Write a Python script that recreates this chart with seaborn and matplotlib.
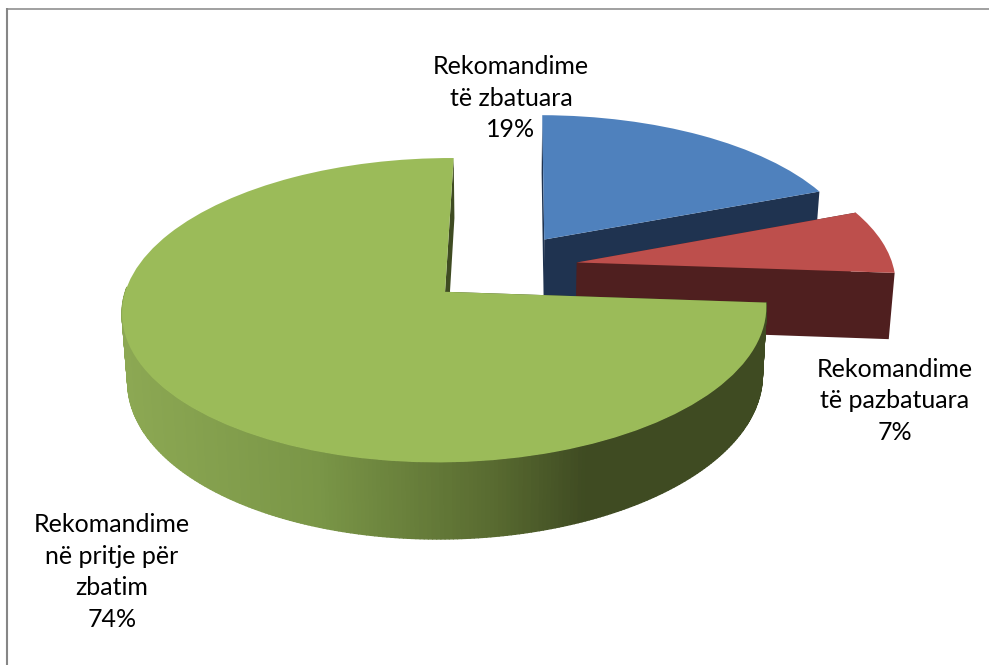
import numpy as np
import seaborn as sns
import matplotlib.pyplot as plt
from matplotlib.collections import PolyCollection
from matplotlib.colors import LinearSegmentedColormap
from matplotlib.path import Path
from matplotlib.transforms import Transform

etiketa = ["Rekomandime\ntë zbatuara\n19%", "Rekomandime\ntë pazbatuara\n7%", "Rekomandime\nnë pritje për\nzbatim\n74%"]
vlerat = [19, 7, 74]
ngjyrat = ["#4F81BD", "#BD4F4C", "#9BBB59"]
anet = ["#1F3350", "#4F1F1F", "#3F4B22"]
shkeputja = [0.24, 0.24, 0.24]
pozitat_tekst = [(511, 98), (895, 401), (112, 572)]

# parametrat e pamjes (plani i pies -> piksela)
X0, Y0, B, A, K = 502, 267.6, 316.6, 145.6, 0.12
THELLESI, NGUSHTIM = 66, 0.985


def projekto(pts, poshte=False):
    pts = np.asarray(pts, dtype=float)
    u, v = pts[:, 0], pts[:, 1]
    w = 1 + K * v
    x = u / w * B
    y = Y0 - A * v / w
    if poshte:
        x = x * NGUSHTIM
        y = y + THELLESI / w
    return np.column_stack([X0 + x, y])


class Perspektive(Transform):
    input_dims = 2
    output_dims = 2

    def transform_non_affine(self, values):
        return projekto(values)

    def transform_path_non_affine(self, path):
        return Path(projekto(path.vertices), path.codes)


def harku(wedge, n=400):
    t = np.radians(np.linspace(wedge.theta1, wedge.theta2, n))
    cx, cy = wedge.center
    return np.column_stack([cx + wedge.r * np.cos(t), cy + wedge.r * np.sin(t)])


sns.set_theme(style="white")
plt.rcParams["font.family"] = ["Lato", "DejaVu Sans"]

fig = plt.figure(figsize=(9.89, 6.65), dpi=100)
ax = fig.add_axes([0, 0, 1, 1])

wedges, _ = ax.pie(vlerat, colors=ngjyrat, explode=shkeputja, startangle=89.5,
                   counterclock=False, radius=1)
ax.set_aspect("auto")
ax.set_xlim(0, 989)
ax.set_ylim(665, 0)
ax.axis("off")
wedges[2].set_radius(0.99)

gradient = LinearSegmentedColormap.from_list(
    "ane", [(0, "#8CA853"), (0.3, "#7A9647"), (0.58, "#586A30"), (0.72, "#3F4B22"), (1, "#3F4B22")])

persp = Perspektive()
for i, w in enumerate(wedges):
    w.set_transform(persp + ax.transData)
    w.set_edgecolor("none")
    w.set_zorder(3 * i + 3)
    kulmi = np.array([w.center])
    hark = harku(w)
    # faqet e prera
    for skaj in (hark[:1], hark[-1:]):
        pika = np.vstack([projekto(kulmi), projekto(skaj), projekto(skaj, True), projekto(kulmi, True)])
        ax.fill(pika[:, 0], pika[:, 1], color=anet[i], lw=0, zorder=3 * i + 2)

    # muri i jashtem vetem per te gjelberen, vetem pjesa e perparme
    if i == 2:
        hark = hark[hark[:, 1] < w.center[1] + 0.03]
        lart = projekto(hark)
        posht = projekto(hark, True)
        poli = [[lart[j], lart[j + 1], posht[j + 1], posht[j]] for j in range(len(hark) - 1)]
        ngj = gradient((lart[:-1, 0] - 123) / (764 - 123))
        ax.add_collection(PolyCollection(poli, facecolors=ngj, edgecolors=ngj, linewidths=1.0, zorder=3 * i + 1))

for txt, (x, y) in zip(etiketa, pozitat_tekst):
    ax.text(x, y, txt, ha="center", va="center", fontsize=18, color="black", linespacing=1.44, zorder=20)

# korniza
ax.plot([6.5, 6.5], [665, 8], color="#868686", lw=1.5, zorder=1, solid_capstyle="butt")
ax.plot([6, 989], [8.5, 8.5], color="#868686", lw=1.1, zorder=1, solid_capstyle="butt")

fig.savefig("out.png", dpi=100)
